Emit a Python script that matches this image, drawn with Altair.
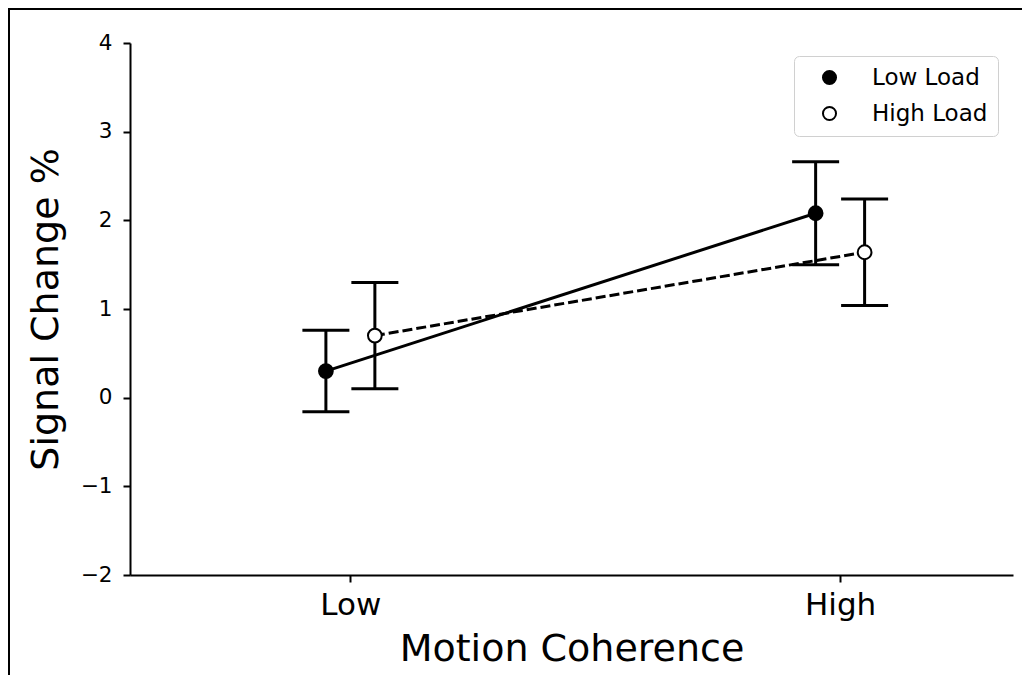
import altair as alt
import pandas as pd

# ---- data ----
conditions = ["Low", "High"]
cond_index = [0, 1]
series_names = ["Low Load", "High Load"]
low_load_mean = [0.30, 2.08]
low_load_err = [0.46, 0.58]
high_load_mean = [0.70, 1.64]
high_load_err = [0.60, 0.60]
dodge = {"Low Load": -0.05, "High Load": 0.05}
y_ticks = [-2, -1, 0, 1, 2, 3, 4]

rows = []
for name, means, errs in [("Low Load", low_load_mean, low_load_err),
                          ("High Load", high_load_mean, high_load_err)]:
    for c, ci, m, e in zip(conditions, cond_index, means, errs):
        rows.append({"series": name, "cond": c, "x": ci + dodge[name],
                     "mean": m, "lo": m - e, "hi": m + e})
df = pd.DataFrame(rows)

W, H = 883, 532
PAD = {"left": 122, "top": 35, "right": 9, "bottom": 100}

label_expr = " : ".join(
    [f"datum.value == {i} ? '{c}'" for i, c in zip(cond_index[:-1], conditions[:-1])]
    + [f"'{conditions[-1]}'"]
)

xs = alt.Scale(domain=[-0.45, 1.353], nice=False, zero=False)
ys = alt.Scale(domain=[-2, 4], nice=False, zero=False)

x_axis = alt.Axis(values=cond_index, labelExpr=label_expr, title="Motion Coherence",
                  grid=False, tickSize=7, tickWidth=2, domainWidth=2,
                  labelFontSize=31, labelPadding=8, titleFontSize=38,
                  titlePadding=10, labelFlush=False)
y_axis = alt.Axis(values=y_ticks, format="d", title="Signal Change %", grid=False,
                  tickSize=7, tickWidth=2, domainWidth=2,
                  labelFontSize=21.5, labelPadding=11, titleFontSize=38,
                  titlePadding=15, labelFlush=False)

X = alt.X("x:Q", scale=xs, axis=x_axis, title="Motion Coherence")


def Y(field):
    return alt.Y(f"{field}:Q", scale=ys, axis=y_axis, title="Signal Change %")


base = alt.Chart(df)

line_low = base.transform_filter(alt.datum.series == "Low Load").mark_line(
    color="black", strokeWidth=3).encode(x=X, y=Y("mean"))
line_high = base.transform_filter(alt.datum.series == "High Load").mark_line(
    color="black", strokeWidth=3, strokeDash=[10, 4]).encode(x=X, y=Y("mean"))

bars = base.mark_rule(color="black", strokeWidth=3).encode(
    x=X, y=Y("lo"), y2="hi:Q")

caps_lo = base.mark_tick(color="black", orient="horizontal", size=47,
                         thickness=3, opacity=1).encode(x=X, y=Y("lo"))
caps_hi = base.mark_tick(color="black", orient="horizontal", size=47,
                         thickness=3, opacity=1).encode(x=X, y=Y("hi"))

points = base.mark_point(filled=True, stroke="black", strokeWidth=2,
                         size=190, opacity=1, shape="circle").encode(
    x=X,
    y=Y("mean"),
    fill=alt.Fill("series:N",
                  scale=alt.Scale(domain=series_names, range=["black", "white"]),
                  legend=alt.Legend(
                      title=None, orient="none", legendX=664, legendY=13,
                      symbolType="circle", symbolSize=170,
                      symbolStrokeColor="black", symbolStrokeWidth=2,
                      symbolOpacity=1,
                      labelFontSize=23, labelColor="black",
                      symbolOffset=14, labelOffset=31, rowPadding=12,
                      padding=10, strokeColor="#d0d0d0", fillColor="white",
                      cornerRadius=5)),
)

frame = alt.Chart(pd.DataFrame({"f": [0]})).mark_rect(
    fill=None, stroke="black", strokeWidth=2).encode(
    x=alt.value(-PAD["left"] + 1), x2=alt.value(W + PAD["right"] + 6),
    y=alt.value(-PAD["top"] + 1), y2=alt.value(H + PAD["bottom"] + 6),
)

chart = alt.layer(frame, line_low, line_high, bars, caps_lo, caps_hi, points).properties(
    width=W, height=H,
    autosize=alt.AutoSizeParams(type="none"),
    padding=PAD,
).configure(
    font="DejaVu Sans", background="white"
).configure_view(stroke=None).configure_axis(
    domainColor="black", tickColor="black", labelColor="black",
    titleColor="black", titleFontWeight="normal", labelFont="DejaVu Sans",
    titleFont="DejaVu Sans"
).configure_legend(labelFont="DejaVu Sans")

chart.save("out.html", embed_options={"renderer": "svg", "actions": False})
